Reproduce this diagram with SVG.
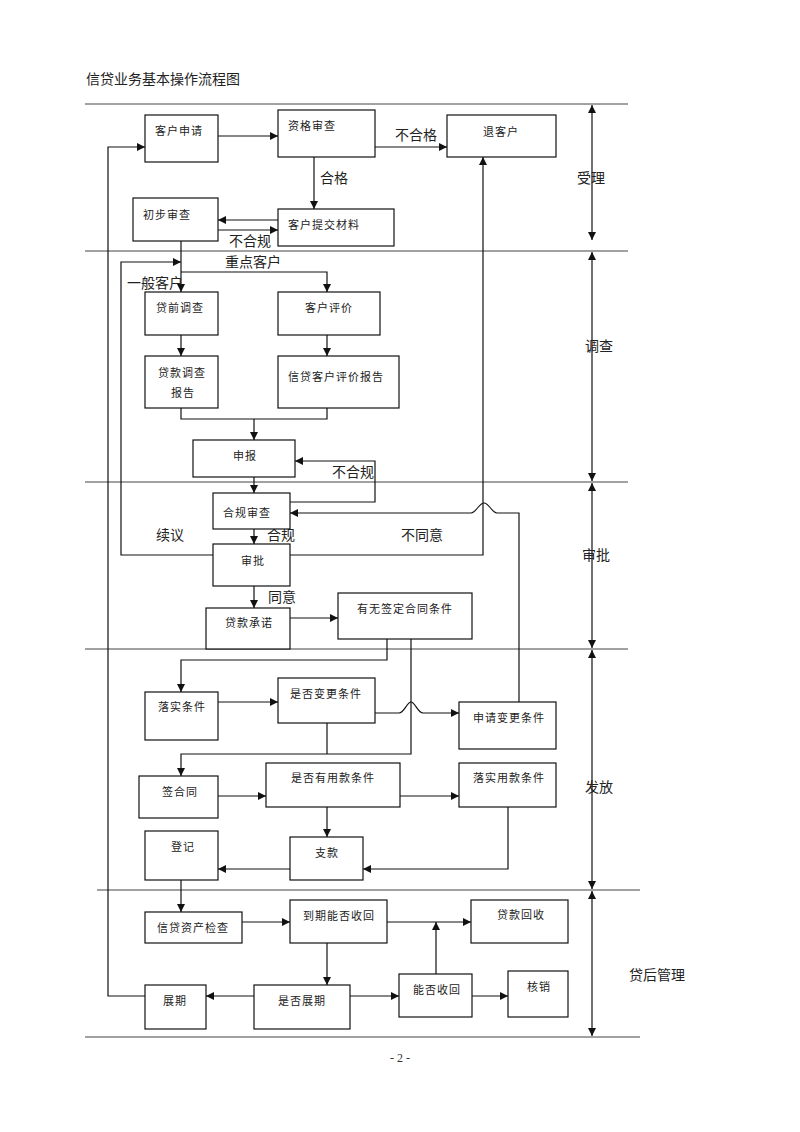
<svg xmlns="http://www.w3.org/2000/svg" width="800" height="1132" viewBox="0 0 800 1132">
<style>
.bg{fill:#fff}
.box{fill:#fff;stroke:#111;stroke-width:1.2}
.nt{font-family:"Noto Sans CJK SC","Liberation Sans",sans-serif;font-size:11px;letter-spacing:1px;fill:#222}
.el{font-family:"Noto Sans CJK SC","Liberation Sans",sans-serif;font-size:14px;fill:#222}
.lane{stroke:#444;stroke-width:1.2;fill:none}
.c{stroke:#111;stroke-width:1.2;fill:none}
.ca{stroke:#111;stroke-width:1.2;fill:none;marker-end:url(#a)}
.dbl{stroke:#111;stroke-width:1.2;fill:none;marker-end:url(#a);marker-start:url(#a)}
</style>
<defs>
<marker id="a" viewBox="0 0 10 10" refX="10" refY="5" markerWidth="9" markerHeight="8" markerUnits="userSpaceOnUse" orient="auto-start-reverse"><path d="M0,0 L10,5 L0,10 z" fill="#111"/></marker>
</defs>
<rect class="bg" x="0" y="0" width="800" height="1132"/>
<text x="86" y="84" class="el">信贷业务基本操作流程图</text>

<g id="lanes">
<path class="lane" d="M85,104 H628 M85,251 H628 M85,482 H628 M85,649 H628 M97,890 H640 M85,1037 H640"/>
<path class="dbl" d="M592,105 V240"/>
<path class="dbl" d="M592,252 V481"/>
<path class="dbl" d="M592,483 V648"/>
<path class="dbl" d="M592,650 V889"/>
<path class="dbl" d="M592,891 V1036"/>
<text x="577" y="183" class="el">受理</text>
<text x="585" y="351" class="el">调查</text>
<text x="582" y="560" class="el">审批</text>
<text x="585" y="792" class="el">发放</text>
<text x="629" y="980" class="el">贷后管理</text>
</g>

<g id="connectors">
<path class="ca" d="M218,136 H278"/>
<path class="ca" d="M375,147 H447"/>
<path class="ca" d="M314,157 V209"/>
<path class="ca" d="M278,220 H218"/>
<path class="ca" d="M218,230 H278"/>
<path class="ca" d="M181,241 V292"/>
<path class="ca" d="M181,272 H327 V292"/>
<path class="ca" d="M213,555 H121 V262 H181"/>
<path class="ca" d="M145,996 H108 V147 H145"/>
<path class="ca" d="M181,335 V356"/>
<path class="ca" d="M327,335 V356"/>
<path class="c" d="M181,408 V419 H327 V408"/>
<path class="ca" d="M254,419 V440"/>
<path class="ca" d="M254,477 V493"/>
<path class="ca" d="M290,502 H375 V461 H295"/>
<path class="ca" d="M254,529 V544"/>
<path class="ca" d="M290,555 H483 V157"/>
<path class="ca" d="M519,702 V513 H497 C492,513 489,503 484,503 C479,503 476,513 471,513 H290"/>
<path class="ca" d="M254,586 V608"/>
<path class="ca" d="M290,618 H338"/>
<path class="ca" d="M387,639 V660 H181 V692"/>
<path class="ca" d="M411,639 V754 H181 V776"/>
<path class="ca" d="M218,702 H278"/>
<path class="ca" d="M375,713 H399 C404,713 407,702 411,702 C415,702 418,713 423,713 H459"/>
<path class="c" d="M327,723 V754"/>
<path class="ca" d="M218,796 H266"/>
<path class="ca" d="M400,796 H459"/>
<path class="ca" d="M327,807 V837"/>
<path class="ca" d="M508,807 V869 H363"/>
<path class="ca" d="M290,869 H218"/>
<path class="ca" d="M181,880 V912"/>
<path class="ca" d="M242,922 H290"/>
<path class="ca" d="M387,922 H471"/>
<path class="ca" d="M436,974 V922"/>
<path class="ca" d="M327,943 V985"/>
<path class="ca" d="M254,996 H206"/>
<path class="ca" d="M350,996 H399"/>
<path class="ca" d="M472,996 H508"/>
<text x="395" y="140" class="el">不合格</text>
<text x="320" y="183" class="el">合格</text>
<text x="229" y="246" class="el">不合规</text>
<text x="225" y="267" class="el">重点客户</text>
<text x="127" y="288" class="el">一般客户</text>
<text x="332" y="477" class="el">不合规</text>
<text x="156" y="540" class="el">续议</text>
<text x="267" y="540" class="el">合规</text>
<text x="401" y="540" class="el">不同意</text>
<text x="268" y="602" class="el">同意</text>
</g>

<g id="n1"><rect class="box" x="145" y="115" width="73" height="47"/><text class="nt" x="155" y="135">客户申请</text></g>
<g id="n2"><rect class="box" x="278" y="110" width="97" height="47"/><text class="nt" x="288" y="130">资格审查</text></g>
<g id="n3"><rect class="box" x="447" y="115" width="109" height="42"/><text class="nt" x="483" y="136">退客户</text></g>
<g id="n4"><rect class="box" x="133" y="198" width="85" height="43"/><text class="nt" x="143" y="219">初步审查</text></g>
<g id="n5"><rect class="box" x="278" y="209" width="116" height="37"/><text class="nt" x="288" y="229">客户提交材料</text></g>
<g id="n6"><rect class="box" x="145" y="292" width="73" height="43"/><text class="nt" x="156" y="312">贷前调查</text></g>
<g id="n7"><rect class="box" x="278" y="292" width="102" height="43"/><text class="nt" x="305" y="312">客户评价</text></g>
<g id="n8"><rect class="box" x="145" y="356" width="73" height="52"/><text class="nt" x="158" y="377">贷款调查</text><text class="nt" x="171" y="397">报告</text></g>
<g id="n9"><rect class="box" x="278" y="356" width="121" height="52"/><text class="nt" x="288" y="381">信贷客户评价报告</text></g>
<g id="n10"><rect class="box" x="193" y="440" width="102" height="37"/><text class="nt" x="233" y="460">申报</text></g>
<g id="n11"><rect class="box" x="213" y="493" width="77" height="36"/><text class="nt" x="223" y="517">合规审查</text></g>
<g id="n12"><rect class="box" x="213" y="544" width="77" height="42"/><text class="nt" x="241" y="565">审批</text></g>
<g id="n13"><rect class="box" x="206" y="608" width="84" height="41"/><text class="nt" x="225" y="627">贷款承诺</text></g>
<g id="n14"><rect class="box" x="338" y="593" width="134" height="46"/><text class="nt" x="357" y="613">有无签定合同条件</text></g>
<g id="n15"><rect class="box" x="145" y="692" width="73" height="48"/><text class="nt" x="158" y="711">落实条件</text></g>
<g id="n16"><rect class="box" x="278" y="678" width="97" height="45"/><text class="nt" x="290" y="698">是否变更条件</text></g>
<g id="n17"><rect class="box" x="459" y="702" width="97" height="47"/><text class="nt" x="473" y="722">申请变更条件</text></g>
<g id="n18"><rect class="box" x="139" y="776" width="79" height="42"/><text class="nt" x="162" y="796">签合同</text></g>
<g id="n19"><rect class="box" x="266" y="763" width="134" height="44"/><text class="nt" x="291" y="782">是否有用款条件</text></g>
<g id="n20"><rect class="box" x="459" y="763" width="97" height="44"/><text class="nt" x="473" y="782">落实用款条件</text></g>
<g id="n21"><rect class="box" x="145" y="831" width="73" height="49"/><text class="nt" x="171" y="851">登记</text></g>
<g id="n22"><rect class="box" x="290" y="837" width="73" height="43"/><text class="nt" x="315" y="857">支款</text></g>
<g id="n23"><rect class="box" x="145" y="912" width="97" height="31"/><text class="nt" x="157" y="932">信贷资产检查</text></g>
<g id="n24"><rect class="box" x="290" y="900" width="97" height="43"/><text class="nt" x="303" y="920">到期能否收回</text></g>
<g id="n25"><rect class="box" x="471" y="900" width="97" height="43"/><text class="nt" x="497" y="919">贷款回收</text></g>
<g id="n26"><rect class="box" x="399" y="974" width="73" height="43"/><text class="nt" x="413" y="994">能否收回</text></g>
<g id="n27"><rect class="box" x="508" y="971" width="60" height="46"/><text class="nt" x="527" y="991">核销</text></g>
<g id="n28"><rect class="box" x="254" y="985" width="96" height="44"/><text class="nt" x="278" y="1005">是否展期</text></g>
<g id="n29"><rect class="box" x="145" y="985" width="61" height="44"/><text class="nt" x="163" y="1005">展期</text></g>

<text x="400" y="1062" text-anchor="middle" style="font-family:'Liberation Serif',serif;font-size:12px;fill:#333">- 2 -</text>
</svg>
